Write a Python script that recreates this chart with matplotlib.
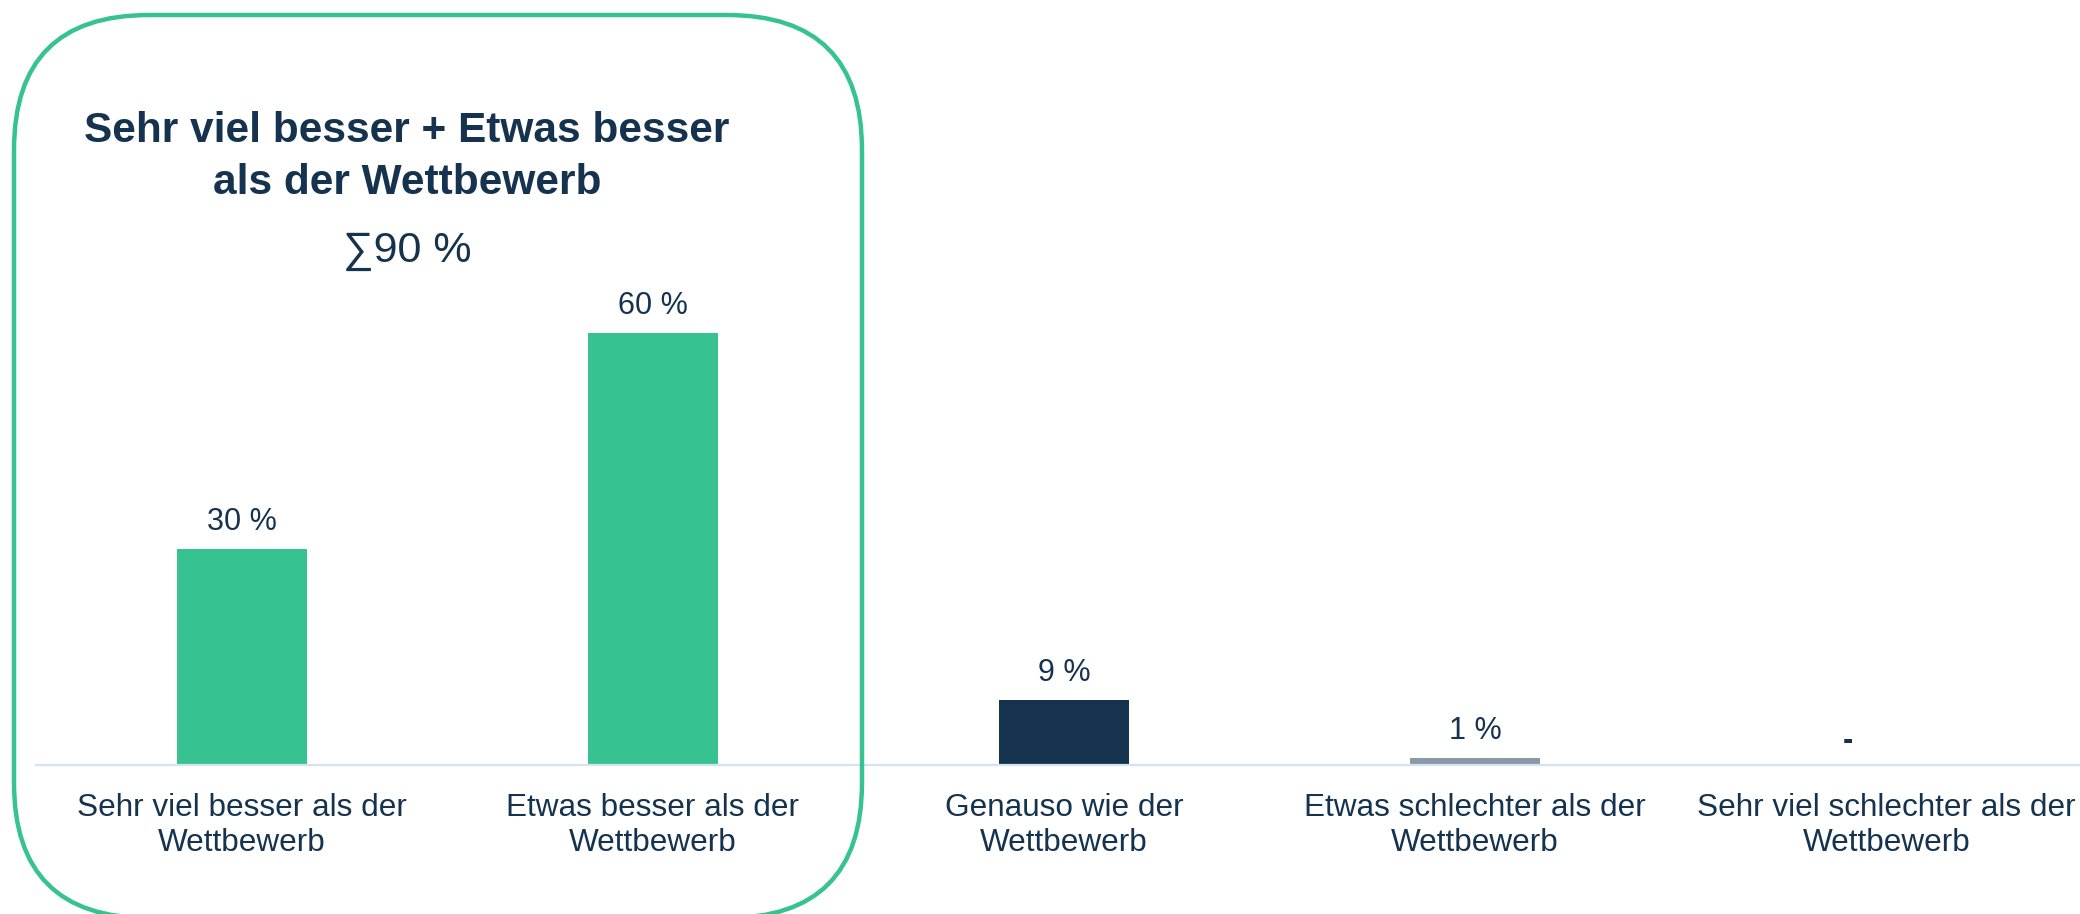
import matplotlib
matplotlib.use("Agg")
import matplotlib.pyplot as plt
from matplotlib.patches import FancyBboxPatch

plt.rcParams['font.family'] = ['Liberation Sans', 'DejaVu Sans']

categories = ["Sehr viel besser als der\nWettbewerb",
              "Etwas besser als der\nWettbewerb",
              "Genauso wie der\nWettbewerb",
              "Etwas schlechter als der\nWettbewerb",
              "Sehr viel schlechter als der\nWettbewerb"]
values = [30, 60, 9, 1, 0]
value_labels = ["30 %", "60 %", "9 %", "1 %", "-"]
bar_colors = ["#37C391", "#37C391", "#15334F", "#8A99A7", "#8A99A7"]
title_text = "Sehr viel besser + Etwas besser\nals der Wettbewerb"
sum_text = "\u221190 %"

TXT = "#15334F"
W, H = 2080, 914
fig = plt.figure(figsize=(W / 100, H / 100), dpi=100)

# main axes: left 36px, width 2056px, bottom at y=765 from top
ax_left = 36 / W
ax_bottom = (H - 765) / H
ax = fig.add_axes([ax_left, ax_bottom, 2056 / W, 765 / H])
x = list(range(len(values)))
ax.bar(x, values, width=0.316, color=bar_colors, zorder=2)
ax.set_xlim(-0.5, 4.5)
ax.set_ylim(0, 765 / 7.2)
for i, (v, lab) in enumerate(zip(values, value_labels)):
    if lab == "-":
        ax.annotate(lab, (i, v), xytext=(-28, 17.5), textcoords="offset points",
                    ha="center", va="center", fontsize=22, fontweight="bold",
                    color=TXT)
    else:
        ax.annotate(lab, (i, v), xytext=(0, 19.5), textcoords="offset points",
                    ha="center", va="center", fontsize=22, color=TXT)
ax.set_xticks(x)
ax.set_xticklabels(categories, fontsize=22.7, color=TXT, linespacing=1.22)
ax.tick_params(axis="x", length=0, pad=20)
ax.set_yticks([])
for s in ["top", "left", "right"]:
    ax.spines[s].set_visible(False)
ax.spines["bottom"].set_color("#D5E3F1")
ax.spines["bottom"].set_linewidth(1.6)
ax.patch.set_alpha(0)

# overlay axes in pixel coordinates for the highlight box and title
ov = fig.add_axes([0, 0, 1, 1], zorder=3)
ov.set_xlim(0, W)
ov.set_ylim(0, H)
ov.axis("off")
ov.patch.set_alpha(0)
box_top, box_bottom = 15, 918
box = FancyBboxPatch((14, H - box_bottom), 848, box_bottom - box_top,
                     boxstyle="round,pad=0,rounding_size=135",
                     fill=False, edgecolor="#37C391", linewidth=3.2)
ov.add_patch(box)
ov.text(407, H - 157, title_text, ha="center", va="center", fontsize=30.5,
        fontweight="bold", color=TXT, linespacing=1.36)
ov.text(407, H - 251, sum_text, ha="center", va="center", fontsize=31, color=TXT)

fig.savefig("out.png", dpi=100)
